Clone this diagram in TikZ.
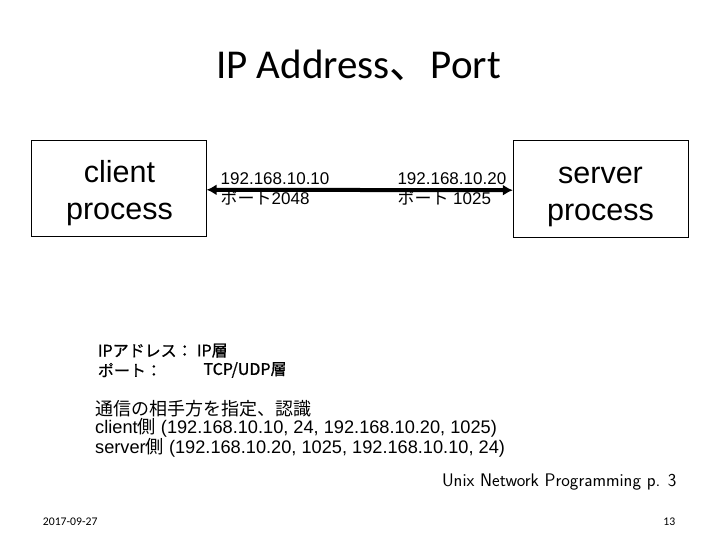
\documentclass[tikz,border=0pt]{standalone}
\usepackage{fontspec}
\setmainfont{Liberation Sans}
\newfontfamily\jpfont{Noto Sans CJK JP}
\newfontfamily\jpgothic[FakeBold=0.8]{Noto Sans CJK JP}
\newfontfamily\calfont{Carlito}
\newfontfamily\lmsfont{Latin Modern Sans}
\usetikzlibrary{arrows.meta}
\begin{document}
\begin{tikzpicture}[x=1pt,y=-1pt,
  procbox/.style={draw,line width=0.8pt,minimum width=175pt,minimum height=96.7pt,inner sep=0pt},
  proctext/.style={align=center,inner sep=0pt,font=\fontsize{30.5}{36.6}\selectfont},
  addr/.style={anchor=base west,inner sep=0pt,font=\fontsize{17}{19}\selectfont},
  body/.style={anchor=west,inner sep=0pt,font=\fontsize{18.2}{20}\selectfont},
  gothic/.style={anchor=west,inner sep=0pt,font=\jpgothic\fontsize{16}{18}\selectfont}]
\useasboundingbox (0,0) rectangle (720,540);
\node[anchor=base,font=\calfont\fontsize{41}{44}\selectfont,inner sep=0pt] (title) at (358.5,79) {IP Address{\jpfont 、}Port};
\node[procbox] (client) at (118.7,188.4) {};
\node[proctext] (clientlabel) at (119.5,193.7) {\strut client\\\strut process};
\node[procbox] (server) at (600.8,188.6) {};
\node[proctext] (serverlabel) at (600.5,194.5) {\strut server\\\strut process};
\draw[line width=4pt,{Latex[length=10pt,width=11pt]}-{Latex[length=10pt,width=11pt]}] ([yshift=-1.4pt]client.east) -- ([yshift=-1.6pt]server.west);
\node[addr] (a1) at (220.5,185) {192.168.10.10};
\node[addr] (p1) at (220.5,204.5) {{\jpfont ポート}2048};
\node[addr] (a2) at (397.3,185) {192.168.10.20};
\node[addr] (p2) at (397.3,204.5) {{\jpfont ポート} 1025};
\node[gothic] (l1) at (97.7,350.7) {IPアドレス：};
\node[gothic] (l1b) at (196.7,350.7) {IP層};
\node[gothic] (l2) at (97.7,370) {ポート：};
\node[gothic] (l2b) at (203.3,370) {TCP/UDP層};
\node[anchor=west,inner sep=0pt,font=\jpfont\fontsize{18}{20}\selectfont] (m1) at (95,409) {通信の相手方を指定、認識};
\node[body] (m2) at (95,428) {client{\jpfont 側} (192.168.10.10, 24, 192.168.10.20, 1025)};
\node[body] (m3) at (95,448) {server{\jpfont 側} (192.168.10.20, 1025, 192.168.10.10, 24)};
\node[anchor=east,inner sep=0pt,font=\lmsfont\fontsize{18.2}{20}\selectfont] (ref) at (676.7,481.7) {Unix Network Programming p. 3};
\node[anchor=west,inner sep=0pt,font=\calfont\fontsize{11.7}{13}\selectfont] (date) at (42.7,522) {2017-09-27};
\node[anchor=east,inner sep=0pt,font=\calfont\fontsize{11.7}{13}\selectfont] (page) at (675.5,521.5) {13};
\end{tikzpicture}
\end{document}
